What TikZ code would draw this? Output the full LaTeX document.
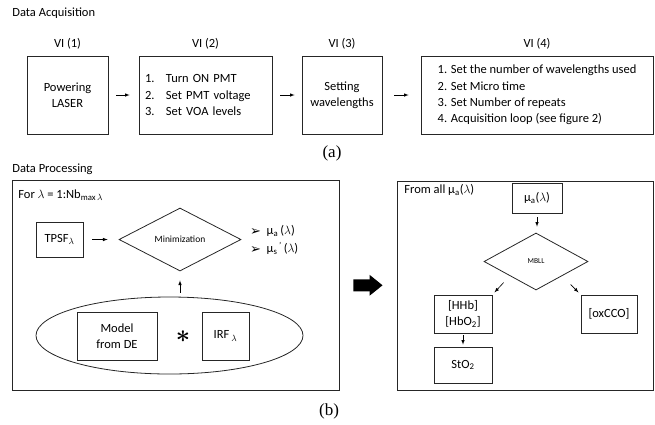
\documentclass[tikz,border=0pt]{standalone}
\usepackage{fontspec}
\usepackage{bm}
\setmainfont{Carlito}
\newfontfamily\capfont{Liberation Serif}
\newfontfamily\dingfont{DejaVu Sans}
\usetikzlibrary{positioning,shapes.geometric,arrows.meta}

\tikzset{
  >=latex,
  box/.style={draw=black!85, line width=0.8pt, inner sep=2pt, align=center},
  rhomb/.style={draw=black!85, line width=0.8pt, diamond, inner sep=0pt},
  link/.style={->, line width=0.6pt},
  heading/.style={anchor=west, font=\fontsize{12.5}{14}\selectfont},
  caption/.style={font=\capfont\fontsize{17}{17}\selectfont},
}

\begin{document}
\begin{tikzpicture}[x=1pt,y=-1pt]

\newcommand\RowY{95}
\newcommand\BoxH{78}
\newcommand\Tip{\raisebox{-0.5pt}{\dingfont\fontsize{13}{13}\selectfont ➢}\ \ }

  \fontsize{12.5}{16.3}\selectfont
  \useasboundingbox (0,0) rectangle (655,424);

  %% data acquisition
  \node[heading] (acq) at (8,13) {Data Acquisition};

  \node[box, minimum width=81pt, minimum height=\BoxH pt] (vi1) at (67.5,\RowY)
  {Powering\\LASER};
  \node[box, text width=121pt, inner xsep=6pt, minimum height=\BoxH pt, align=left]
  (vi2) at (205.5,\RowY)
  {\makebox[21pt][l]{1.}Turn ON PMT\\%
   \makebox[21pt][l]{2.}Set PMT voltage\\%
   \makebox[21pt][l]{3.}Set VOA levels};
  \node[box, minimum width=80pt, minimum height=\BoxH pt] (vi3) at (342,\RowY)
  {Setting\\wavelengths};
  \node[box, minimum width=232pt, minimum height=\BoxH pt, align=left]
  (vi4) at (537,\RowY)
  {1. Set the number of wavelengths used\\%
   2. Set Micro time\\%
   3. Set Number of repeats\\%
   4. Acquisition loop (see figure 2)};

  %% titles above the boxes
  \node[inner sep=0pt, above=6pt of vi1] (t1) {VI (1)};
  \node[inner sep=0pt, above=6pt of vi2] (t2) {VI (2)};
  \node[inner sep=0pt, above=6pt of vi3] (t3) {VI (3)};
  \node[inner sep=0pt, above=6pt of vi4] (t4) {VI (4)};

  \draw[link, shorten <=8pt, shorten >=9pt] (vi1) -- (vi2);
  \draw[link, shorten <=8pt, shorten >=7pt] (vi2) -- (vi3);
  \draw[link, shorten <=12pt, shorten >=12pt] (vi3) -- (vi4);

  \node[caption] (capa) at (332,153) {(a)};

  %% data processing
  \node[heading] (proc) at (8,169) {Data Processing};

  \node[box, minimum width=327pt, minimum height=210pt] (fitbox) at (175.5,285) {};
  \node[box, minimum width=256pt, minimum height=209pt] (chrbox) at (525,285.5) {};

  \draw[line width=12pt, -{Triangle[width=20pt,length=13pt]},
  shorten <=14pt, shorten >=14pt] (fitbox) -- (chrbox);

  %% fit for each wavelength
  \node[anchor=west] (forl) at (14,195)
  {For $\lambda$ = 1:Nb\textsubscript{max\,$\lambda$}};
  \node[box, minimum width=47pt, minimum height=35pt] (tpsf) at (59.5,239.5)
  {TPSF\textsubscript{$\lambda$}};
  \node[rhomb, minimum width=122pt, minimum height=63pt,
  font=\fontsize{9.5}{10}\selectfont] (mini) at (180,239.5) {Minimization};
  \node[anchor=west, align=left, inner sep=0pt, font=\fontsize{12.5}{18}\selectfont]
  (mus) at (250,240)
  {\Tip μ\textsubscript{a}\,($\lambda$)\\%
   \Tip μ\textsubscript{s}\textsuperscript{\,'}\,($\lambda$)};

  \node[draw=black!85, line width=0.8pt, ellipse, minimum width=267pt,
  minimum height=77pt] (conv) at (169.5,335.5) {};
  \node[box, minimum width=80pt, minimum height=48pt] (model) at (117,336)
  {Model\\from DE};
  \node (star) at (183,337) {\fontsize{24}{24}\selectfont$\bm{\ast}$};
  \node[box, minimum width=47pt, minimum height=48pt] (irf) at (225.5,336)
  {IRF\,\textsubscript{$\lambda$}};

  \draw[link, shorten <=9pt, shorten >=11pt] (tpsf) -- (mini);
  \draw[link, shorten <=4pt, shorten >=9pt] (mini.south |- conv.north) -- (mini.south);

  %% chromophores
  \node[anchor=west] (froml) at (400,190) {From all μ\textsubscript{a}($\lambda$)};
  \node[box, minimum width=50pt, minimum height=30pt] (mua) at (537,198)
  {μ\textsubscript{a}($\lambda$)};
  \node[rhomb, minimum width=104pt, minimum height=57pt,
  font=\fontsize{7.5}{8}\selectfont] (mbll) at (536,261.5) {MBLL};
  \node[box, minimum width=58pt, minimum height=38pt] (hb) at (463,314)
  {[HHb]\\{}[HbO\textsubscript{2}]};
  \node[box, minimum width=56pt, minimum height=38pt] (ox) at (609,314) {[oxCCO]};
  \node[box, minimum width=58pt, minimum height=36pt] (sto) at (463,365)
  {StO\textsubscript{2}};

  \draw[link, shorten <=4pt, shorten >=6pt] (mua) -- (mua |- mbll.north);
  \draw[link, shorten <=9pt, shorten >=3pt] (mbll.south west) -- (hb.north east);
  \draw[link, shorten <=12pt, shorten >=3pt] (mbll.south east) -- (ox.north west);
  \draw[link, shorten <=2pt, shorten >=2pt] (hb) -- (sto);

  \node[caption] (capb) at (329,411) {(b)};

\end{tikzpicture}
\end{document}
